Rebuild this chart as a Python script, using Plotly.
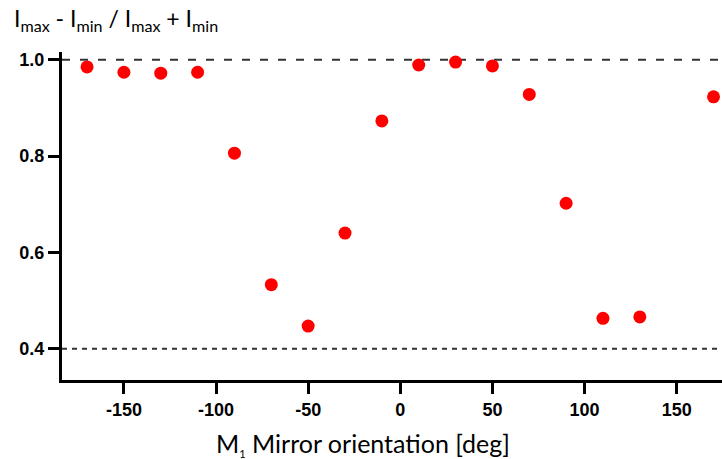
import plotly.graph_objects as go

# Mirror angle (deg) and measured contrast (Imax - Imin)/(Imax + Imin)
angles = [-170, -150, -130, -110, -90, -70, -50, -30, -10, 10, 30, 50, 70, 90, 110, 130, 170]
contrast = [0.985, 0.974, 0.972, 0.974, 0.806, 0.533, 0.447, 0.640, 0.873,
            0.989, 0.995, 0.987, 0.928, 0.702, 0.463, 0.466, 0.923]

x_ticks = [-150, -100, -50, 0, 50, 100, 150]
x_tick_labels = ["-150", "-100", "-50", "0", "50", "100", "150"]
y_ticks = [0.4, 0.6, 0.8, 1.0]
y_tick_labels = ["0.4", "0.6", "0.8", "1.0"]
ref_levels = [1.0, 0.4]

W, H = 722, 459
ML, MR, MT, MB = 62, 0, 52, 79

fig = go.Figure()
fig.add_trace(go.Scatter(
    x=angles, y=contrast, mode="markers",
    marker=dict(color="#ff0000", size=13, line=dict(width=0)),
    cliponaxis=False, showlegend=False,
))

dashes = {1.0: "8px,10px", 0.4: "5px,5px"}
for lvl in ref_levels:
    fig.add_shape(type="line", xref="paper", x0=0, x1=1, yref="y", y0=lvl, y1=lvl,
                  line=dict(color="#333333", width=2, dash=dashes[lvl]), layer="below")

tick_font = dict(family="Liberation Sans, Arial, sans-serif", size=18, color="black", weight="bold")
fig.update_xaxes(range=[-183.6, 174.6], tickvals=x_ticks, ticktext=x_tick_labels, showline=True,
                 linewidth=3, linecolor="black", ticks="outside", ticklen=11, tickwidth=3,
                 tickcolor="black", showgrid=False, zeroline=False, tickfont=tick_font)
fig.update_yaxes(range=[0.335, 1.016], tickvals=y_ticks, ticktext=y_tick_labels, showline=True,
                 linewidth=3, linecolor="black", ticks="outside", ticklen=11, tickwidth=3,
                 tickcolor="black", showgrid=False, zeroline=False, tickfont=tick_font)

pw = W - ML - MR
ph = H - MT - MB
label_font = dict(family="Lato, Open Sans, sans-serif", color="black")
fig.add_annotation(
    text="I<sub>max</sub> - I<sub>min</sub> / I<sub>max</sub> + I<sub>min</sub>",
    xref="paper", yref="paper", x=(12 - ML) / pw, y=1 + (MT - 2) / ph,
    xanchor="left", yanchor="top", showarrow=False, font=dict(size=23, **label_font),
)
fig.add_annotation(
    text="M<sub><span style='font-size:11px'>1</span></sub> Mirror orientation [deg]",
    xref="paper", yref="paper", x=(363 - ML) / pw, y=-(462 - (H - MB)) / ph,
    xanchor="center", yanchor="bottom", showarrow=False, font=dict(size=25, **label_font),
)

fig.update_layout(width=W, height=H, margin=dict(l=ML, r=MR, t=MT, b=MB),
                  plot_bgcolor="white", paper_bgcolor="white")
fig.write_html("out.html")
